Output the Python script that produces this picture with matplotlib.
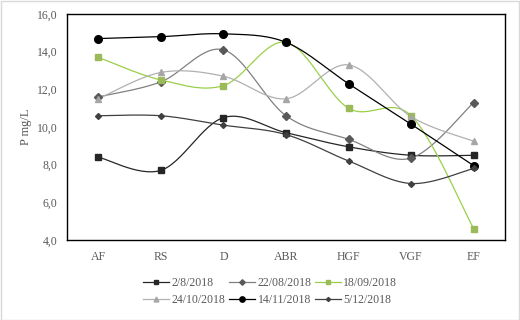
import numpy as np
import matplotlib
matplotlib.use("Agg")
import matplotlib.pyplot as plt

plt.rcParams['font.family'] = ['Liberation Serif', 'DejaVu Serif']

categories = ['AF', 'RS', 'D', 'ABR', 'HGF', 'VGF', 'EF']
s_0208 = [8.4, 7.7, 10.5, 9.7, 8.95, 8.5, 8.5]
s_2208 = [11.6, 12.4, 14.1, 10.6, 9.35, 8.35, 11.3]
s_1809 = [13.7, 12.5, 12.2, 14.5, 11.0, 10.6, 4.6]
s_2410 = [11.5, 12.9, 12.7, 11.5, 13.3, 10.55, 9.25]
s_1411 = [14.7, 14.8, 14.95, 14.5, 12.3, 10.15, 7.95]
s_0512 = [10.6, 10.6, 10.1, 9.6, 8.2, 7.0, 7.8]
labels = ['2/8/2018', '22/08/2018', '18/09/2018', '24/10/2018', '14/11/2018', '5/12/2018']
yticks = [4, 6, 8, 10, 12, 14, 16]

TXT = '#595959'


def smooth(y, n=30):
    # excel-like smoothed line (catmull-rom as bezier)
    x = np.arange(len(y), dtype=float)
    p = np.column_stack([x, np.asarray(y, dtype=float)])
    p = np.vstack([p[0], p, p[-1]])
    out = []
    t = np.linspace(0, 1, n)[:, None]
    for i in range(1, len(p) - 2):
        p0, p1, p2, p3 = p[i - 1], p[i], p[i + 1], p[i + 2]
        c1 = p1 + (p2 - p0) / 6
        c2 = p2 - (p3 - p1) / 6
        b = ((1 - t) ** 3) * p1 + 3 * ((1 - t) ** 2) * t * c1 + 3 * (1 - t) * t ** 2 * c2 + t ** 3 * p2
        out.append(b if i == 1 else b[1:])
    out = np.vstack(out)
    return out[:, 0], out[:, 1]


fig = plt.figure(figsize=(5.2, 3.2), dpi=100)
ax = fig.add_axes([0.129, 0.25, 0.842, 0.706])

styles = [
    (s_0208, dict(color='#262626', lw=0.9), dict(marker='s', ms=5, mfc='#262626', mec='#262626')),
    (s_2208, dict(color='#808080', lw=0.9), dict(marker='D', ms=4, mfc='#595959', mec='#595959')),
    (s_1809, dict(color='#9bcf4a', lw=0.9), dict(marker='s', ms=5, mfc='#9bbb59', mec='#9bbb59')),
    (s_2410, dict(color='#b0b0b0', lw=0.9), dict(marker='^', ms=5, mfc='#a6a6a6', mec='#a6a6a6')),
    (s_1411, dict(color='#000000', lw=0.9), dict(marker='o', ms=5.5, mfc='black', mec='black')),
    (s_0512, dict(color='#404040', lw=0.9), dict(marker='D', ms=3, mfc='#404040', mec='#404040')),
]

handles = []
for (vals, lkw, mkw), lab in zip(styles, labels):
    xs, ys = smooth(vals)
    ax.plot(xs, ys, **lkw, zorder=2)
    ax.plot(range(len(vals)), vals, ls='none', **mkw, zorder=3)
    h, = ax.plot([], [], label=lab, **lkw, **mkw)
    handles.append(h)

ax.set_xlim(-0.5, len(categories) - 0.5)
ax.set_ylim(4, 16)
ax.set_xticks(range(len(categories)))
ax.set_xticklabels(categories)
ax.set_yticks(yticks)
ax.set_yticklabels([f'{v:.1f}'.replace('.', ',') for v in yticks])
ax.tick_params(length=0, colors=TXT, labelsize=8.5, pad=8)
ax.tick_params(axis='y', pad=7)
for sp in ax.spines.values():
    sp.set_color('black')
    sp.set_linewidth(1)
ax.set_ylabel('P mg/L', color=TXT, fontsize=9, labelpad=3)

order = [0, 3, 1, 4, 2, 5]
fig.legend([handles[i] for i in order], [labels[i] for i in order],
           ncol=3, loc='center', bbox_to_anchor=(0.52, 0.088), frameon=False,
           fontsize=8.5, labelcolor=TXT, handlelength=2.2, handletextpad=0.2,
           columnspacing=0.3, labelspacing=0.45, markerscale=0.7)

fig.patches.append(plt.Rectangle((0.001, 0.001), 0.997, 0.997, transform=fig.transFigure,
                                 fill=False, ec='#d9d9d9', lw=1))

fig.savefig('out.png', dpi=100)
